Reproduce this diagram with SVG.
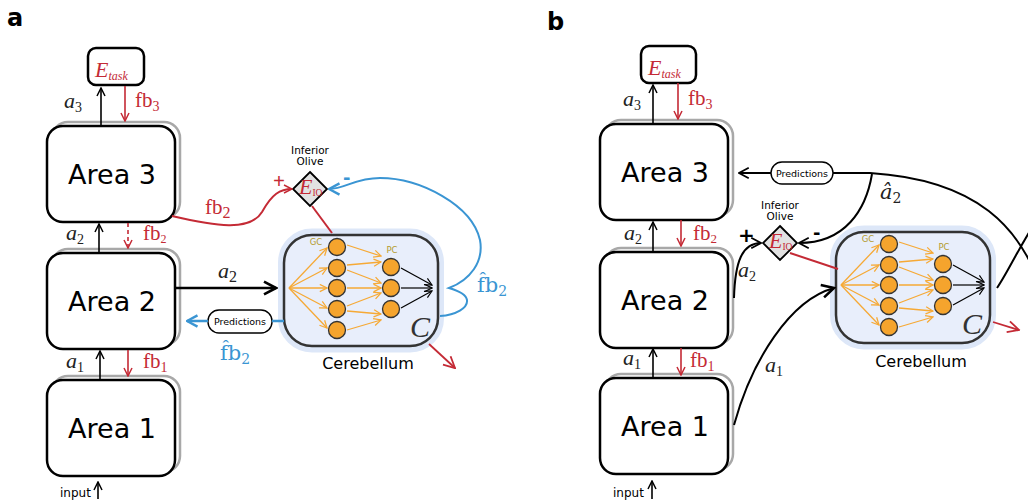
<svg xmlns="http://www.w3.org/2000/svg" xmlns:xlink="http://www.w3.org/1999/xlink" width="1028" height="504" viewBox="0 0 1028 504">
<style>
.box{fill:#fff;stroke:#000;stroke-width:2.5}
.shadow{fill:none;stroke:#a8a8a8;stroke-width:2.5}
.area{font-family:"DejaVu Sans",sans-serif;font-size:27px;text-anchor:middle;fill:#000}
.math{font-family:"Liberation Serif",serif;font-style:italic;font-size:22px;fill:#222}
.rm{font-family:"Liberation Serif",serif;font-size:21px}
.red{fill:#c42a35}
.blue{fill:#3a95d3}
.k{stroke:#000;fill:none;stroke-width:1.6}
.kr{stroke:#c42a35;fill:none;stroke-width:1.6}
.sans{font-family:"DejaVu Sans",sans-serif}
.pred{fill:#fff;stroke:#000;stroke-width:1.4}
.predt{font-family:"DejaVu Sans",sans-serif;font-size:9.5px;text-anchor:middle}
.dia{fill:#e2e2e2;stroke:#000;stroke-width:1.8}
.io{font-family:"DejaVu Sans",sans-serif;font-size:10.5px;text-anchor:middle}
.or{stroke:#f6a935;stroke-width:1.3;fill:none}
.gc{fill:#f5a42d;stroke:#333;stroke-width:1.3}
.lab{font-family:"DejaVu Sans",sans-serif;font-size:8.5px;fill:#b39a2c;text-anchor:middle}
.hat{font-family:"DejaVu Serif",serif}
</style>
<defs>
<marker id="ak" viewBox="0 0 10 10" refX="9" refY="5" markerWidth="10" markerHeight="10" markerUnits="userSpaceOnUse" orient="auto"><path d="M1,1 L9,5 L1,9" fill="none" stroke="#000" stroke-width="1.5"/></marker>
<marker id="ar" viewBox="0 0 10 10" refX="9" refY="5" markerWidth="10" markerHeight="10" markerUnits="userSpaceOnUse" orient="auto"><path d="M1,1 L9,5 L1,9" fill="none" stroke="#c42a35" stroke-width="1.5"/></marker>
<marker id="arb" viewBox="0 0 10 10" refX="9" refY="5" markerWidth="14" markerHeight="14" markerUnits="userSpaceOnUse" orient="auto"><path d="M1,1 L9,5 L1,9" fill="none" stroke="#c42a35" stroke-width="1.3"/></marker>
<marker id="akb" viewBox="0 0 10 10" refX="9" refY="5" markerWidth="16" markerHeight="16" markerUnits="userSpaceOnUse" orient="auto"><path d="M1.5,1 L9,5 L1.5,9" fill="none" stroke="#000" stroke-width="1.6"/></marker>
<marker id="akm" viewBox="0 0 10 10" refX="9" refY="5" markerWidth="13" markerHeight="13" markerUnits="userSpaceOnUse" orient="auto"><path d="M1.5,1 L9,5 L1.5,9" fill="none" stroke="#000" stroke-width="1.4"/></marker>
<marker id="abb" viewBox="0 0 10 10" refX="9" refY="5" markerWidth="14" markerHeight="14" markerUnits="userSpaceOnUse" orient="auto"><path d="M1.5,1 L9,5 L1.5,9" fill="none" stroke="#3a95d3" stroke-width="1.7"/></marker>
<marker id="ao" viewBox="0 0 10 10" refX="9" refY="5" markerWidth="9" markerHeight="9" markerUnits="userSpaceOnUse" orient="auto"><path d="M1,1 L9,5 L1,9" fill="none" stroke="#f6a935" stroke-width="1.4"/></marker>
<marker id="aks" viewBox="0 0 10 10" refX="9" refY="5" markerWidth="9" markerHeight="9" markerUnits="userSpaceOnUse" orient="auto"><path d="M1,1 L9,5 L1,9" fill="none" stroke="#000" stroke-width="1.3"/></marker>
<g id="cb">
<rect x="281" y="231.5" width="160" height="118" rx="31" fill="none" stroke="#dde7f8" stroke-width="6"/>
<rect x="284" y="235" width="154" height="111" rx="28" fill="#e8eefb" stroke="#333" stroke-width="2.5"/>
<g>
<path class="or" d="M289,288 L327,248" marker-end="url(#ao)"/>
<path class="or" d="M289,288 L327,268" marker-end="url(#ao)"/>
<path class="or" d="M289,288 L327,288" marker-end="url(#ao)"/>
<path class="or" d="M289,288 L327,308" marker-end="url(#ao)"/>
<path class="or" d="M289,288 L327,328" marker-end="url(#ao)"/>
<path class="or" d="M347,245 L381,256" marker-end="url(#ao)"/>
<path class="or" d="M347,265 L381,262" marker-end="url(#ao)"/>
<path class="or" d="M347,270 L381,283" marker-end="url(#ao)"/>
<path class="or" d="M347,288 L381,288" marker-end="url(#ao)"/>
<path class="or" d="M347,306 L381,293" marker-end="url(#ao)"/>
<path class="or" d="M347,311 L381,314" marker-end="url(#ao)"/>
<path class="or" d="M347,330 L381,320" marker-end="url(#ao)"/>
</g>
<circle class="gc" cx="337" cy="247" r="8.5"/>
<circle class="gc" cx="337" cy="268" r="8.5"/>
<circle class="gc" cx="337" cy="288" r="8.5"/>
<circle class="gc" cx="337" cy="309" r="8.5"/>
<circle class="gc" cx="337" cy="330" r="8.5"/>
<circle class="gc" cx="391" cy="267" r="8.5"/>
<circle class="gc" cx="391" cy="288" r="8.5"/>
<circle class="gc" cx="391" cy="309" r="8.5"/>
<path d="M401,268 L432,285" stroke="#000" stroke-width="1.2" fill="none" marker-end="url(#aks)"/>
<path d="M401,288 L432,288" stroke="#000" stroke-width="1.2" fill="none" marker-end="url(#aks)"/>
<path d="M401,308 L432,291" stroke="#000" stroke-width="1.2" fill="none" marker-end="url(#aks)"/>
<text class="lab" x="316" y="245">GC</text>
<text class="lab" x="392" y="253">PC</text>
<text x="410" y="337" font-family="Liberation Serif,serif" font-style="italic" font-size="30" fill="#333">C</text>
</g>
</defs>

<text x="7" y="26" font-family="DejaVu Sans,sans-serif" font-weight="bold" font-size="24">a</text>
<text x="547" y="30" font-family="DejaVu Sans,sans-serif" font-weight="bold" font-size="24">b</text>

<!-- Panel a nodes -->
<g id="a-etask"><rect class="box" x="88" y="48" width="56" height="37" rx="8" stroke-width="2.2"/><text class="math red" x="95" y="77" font-size="25">E<tspan font-size="12" dy="3">task</tspan></text></g>
<g id="a-area3"><rect class="shadow" x="52" y="122" width="128" height="96" rx="16"/><rect class="box" x="47" y="126" width="128" height="96" rx="16"/><text class="area" x="112" y="184">Area 3</text></g>
<g id="a-area2"><rect class="shadow" x="52" y="249" width="128" height="96" rx="16"/><rect class="box" x="47" y="253" width="128" height="96" rx="16"/><text class="area" x="112" y="311">Area 2</text></g>
<g id="a-area1"><rect class="shadow" x="52" y="376" width="128" height="96" rx="16"/><rect class="box" x="47" y="380" width="128" height="96" rx="16"/><text class="area" x="112" y="438">Area 1</text></g>
<g id="a-io"><text class="io" x="310" y="154">Inferior</text><text class="io" x="310" y="165">Olive</text><path class="dia" d="M310,172 L327,189 L310,206 L293,189 Z"/><text class="math red" x="299" y="194" font-size="16">E<tspan font-size="9.5" dy="2" font-style="normal">IO</tspan></text></g>
<g id="a-cereb"><use xlink:href="#cb" href="#cb"/><text class="sans" x="368" y="369" font-size="16" text-anchor="middle">Cerebellum</text></g>
<g id="a-pred"><rect class="pred" x="208" y="310" width="64" height="23" rx="11"/><text class="predt" x="240" y="325">Predictions</text></g>

<!-- Panel a connectors -->
<g id="a-connectors">
<path class="k" d="M101,126 L101,88" marker-end="url(#ak)"/>
<path class="kr" d="M125,86 L125,121" marker-end="url(#ar)"/>
<path class="k" d="M99,253 L99,224" marker-end="url(#ak)"/>
<path class="kr" d="M128,223 L128,248" stroke-dasharray="4 3" marker-end="url(#ar)"/>
<path class="k" d="M100,380 L100,351" marker-end="url(#ak)"/>
<path class="kr" d="M128,350 L128,376" marker-end="url(#ar)"/>
<path class="k" d="M98,499 L98,482" marker-end="url(#ak)"/>
<path d="M172,216 C 215,226 250,232 262,212 C 272,194 280,189 292,189" stroke="#c42a35" stroke-width="2" fill="none" marker-end="url(#ar)"/>
<path d="M312,206 L332,233" stroke="#c42a35" stroke-width="2" fill="none"/>
<path d="M429,344 L455,368" stroke="#c42a35" stroke-width="1.8" fill="none" marker-end="url(#arb)"/>
<path d="M175,288 L276,288" stroke="#000" stroke-width="2.6" fill="none" marker-end="url(#akb)"/>
<path d="M284,321 L272,321 M208,321 L187,321" stroke="#3a95d3" stroke-width="2.6" fill="none" marker-end="url(#abb)"/>
<path d="M440,316 C 456,315 468,308 467,300 C 466,294 456,290 449,288 C 470,280 484,262 480,240 C 472,205 420,178 380,178 C 355,178 345,189 329,189" stroke="#3a95d3" stroke-width="2" fill="none" marker-end="url(#abb)"/>
</g>
<g id="a-labels">
<text class="math" x="64" y="108">a<tspan font-size="14" dy="4" font-style="normal">3</tspan></text>
<text class="rm red" x="135" y="107">fb<tspan font-size="14" dy="4">3</tspan></text>
<text class="math" x="66" y="240">a<tspan font-size="14" dy="4" font-style="normal">2</tspan></text>
<text class="rm red" x="143" y="240" font-size="17">fb<tspan font-size="12" dy="3">2</tspan></text>
<text class="math" x="66" y="368">a<tspan font-size="14" dy="4" font-style="normal">1</tspan></text>
<text class="rm red" x="143" y="368">fb<tspan font-size="14" dy="4">1</tspan></text>
<text class="sans" x="60" y="497" font-size="12">input</text>
<text class="math" x="218" y="278" font-size="25">a<tspan font-size="16" dy="4" font-style="normal">2</tspan></text>
<text class="rm red" x="205" y="214" font-size="24">fb<tspan font-size="16" dy="4">2</tspan></text>
<text class="rm red" x="273" y="188" font-size="20" font-weight="bold" font-family="DejaVu Sans,sans-serif">+</text>
<text class="blue" x="343" y="184" font-size="18" font-weight="bold" font-family="DejaVu Sans,sans-serif">-</text>
<text class="hat blue" x="477" y="292" font-size="21">f&#x302;b<tspan font-size="14" dy="4">2</tspan></text>
<text class="hat blue" x="220" y="360" font-size="21">f&#x302;b<tspan font-size="14" dy="4">2</tspan></text>
</g>

<!-- Panel b nodes -->
<g id="b-etask"><rect class="box" x="641" y="46" width="55" height="37" rx="8" stroke-width="2.2"/><text class="math red" x="648" y="75" font-size="25">E<tspan font-size="12" dy="3">task</tspan></text></g>
<g id="b-area3"><rect class="shadow" x="605" y="120" width="128" height="96" rx="16"/><rect class="box" x="600" y="124" width="128" height="96" rx="16"/><text class="area" x="665" y="182">Area 3</text></g>
<g id="b-area2"><rect class="shadow" x="605" y="248" width="128" height="96" rx="16"/><rect class="box" x="600" y="252" width="128" height="96" rx="16"/><text class="area" x="665" y="310">Area 2</text></g>
<g id="b-area1"><rect class="shadow" x="605" y="374" width="128" height="96" rx="16"/><rect class="box" x="600" y="378" width="128" height="96" rx="16"/><text class="area" x="665" y="436">Area 1</text></g>
<g id="b-io"><text class="io" x="780" y="209">Inferior</text><text class="io" x="780" y="220">Olive</text><path class="dia" d="M780,226 L797,243 L780,260 L763,243 Z"/><text class="math red" x="769" y="248" font-size="16">E<tspan font-size="9.5" dy="2" font-style="normal">IO</tspan></text></g>
<g id="b-cereb"><use xlink:href="#cb" href="#cb" transform="translate(552,-3)"/><text class="sans" x="921" y="367" font-size="16" text-anchor="middle">Cerebellum</text></g>
<g id="b-pred"><rect class="pred" x="771" y="162" width="62" height="22" rx="11"/><text class="predt" x="802" y="177">Predictions</text></g>

<!-- Panel b connectors -->
<g id="b-connectors">
<path class="k" d="M653,124 L653,85" marker-end="url(#ak)"/>
<path class="kr" d="M678,83 L678,119" marker-end="url(#ar)"/>
<path class="k" d="M653,252 L653,222" marker-end="url(#ak)"/>
<path class="kr" d="M681,220 L681,246" marker-end="url(#ar)"/>
<path class="k" d="M653,378 L653,349" marker-end="url(#ak)"/>
<path class="kr" d="M681,348 L681,375" marker-end="url(#ar)"/>
<path class="k" d="M652,499 L652,481" marker-end="url(#ak)"/>
<path d="M997,288 C 1008,272 1020,245 1040,215 C 1060,190 1065,290 1040,285 C 1020,230 980,180 870,173 L 833,173 M771,173 L739,173" stroke="#000" stroke-width="2" fill="none" marker-end="url(#akm)"/>
<path d="M872,174 C 866,210 845,243 799,243" stroke="#000" stroke-width="2" fill="none" marker-end="url(#akm)"/>
<path d="M734,298 C 735,262 742,243 761,243" stroke="#000" stroke-width="2" fill="none" marker-end="url(#akm)"/>
<path d="M734,425 C 752,360 790,300 834,288" stroke="#000" stroke-width="2" fill="none" marker-end="url(#akb)"/>
<path d="M790,253 L838,269" stroke="#c42a35" stroke-width="2" fill="none"/>
<path d="M993,322 L1019,330" stroke="#c42a35" stroke-width="1.8" fill="none" marker-end="url(#arb)"/>
</g>
<g id="b-labels">
<text class="math" x="623" y="106">a<tspan font-size="14" dy="4" font-style="normal">3</tspan></text>
<text class="rm red" x="688" y="105">fb<tspan font-size="14" dy="4">3</tspan></text>
<text class="math" x="624" y="240">a<tspan font-size="14" dy="4" font-style="normal">2</tspan></text>
<text class="rm red" x="693" y="240" font-size="19">fb<tspan font-size="13" dy="3">2</tspan></text>
<text class="math" x="623" y="365">a<tspan font-size="14" dy="4" font-style="normal">1</tspan></text>
<text class="rm red" x="690" y="367">fb<tspan font-size="14" dy="4">1</tspan></text>
<text class="sans" x="613" y="497" font-size="12">input</text>
<text class="hat" x="880" y="199" font-size="21" font-style="italic" fill="#222">a&#x302;<tspan font-size="14" dy="4" font-style="normal">2</tspan></text>
<text class="math" x="738" y="277">a<tspan font-size="14" dy="4" font-style="normal">2</tspan></text>
<text class="math" x="765" y="372">a<tspan font-size="14" dy="4" font-style="normal">1</tspan></text>
<text x="738" y="242" font-size="20" font-weight="bold" font-family="DejaVu Sans,sans-serif">+</text>
<text x="813" y="239" font-size="18" font-weight="bold" font-family="DejaVu Sans,sans-serif">-</text>
</g>
</svg>
